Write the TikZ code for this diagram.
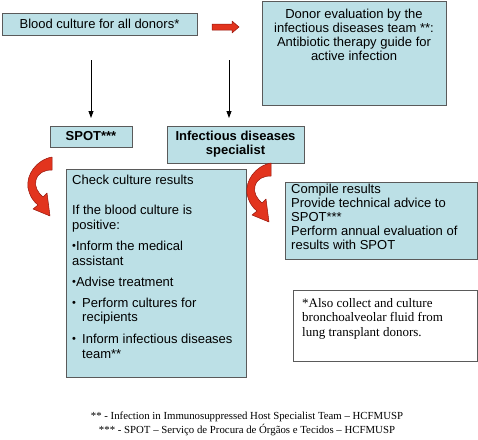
\documentclass[tikz,border=0pt]{standalone}
\usepackage{fontspec}
\setmainfont{Liberation Sans}
\newfontfamily\seriffam{Liberation Serif}
\usetikzlibrary{arrows.meta}
\definecolor{boxblue}{RGB}{188,224,230}
\definecolor{boxline}{RGB}{90,90,90}
\definecolor{arrowred}{RGB}{226,52,30}
\definecolor{arrowdark}{RGB}{150,22,12}
\newcommand\boxfont{\fontsize{13}{14}\selectfont}
\newcommand\checkfont{\fontsize{13}{15}\selectfont}
\newcommand\notefont{\fontsize{13}{14.5}\selectfont}
\newcommand\footfont{\fontsize{10.8}{14}\selectfont}
\newcommand\smbul{\raisebox{1.5pt}{\fontsize{11}{11}\selectfont•}}
\tikzset{
  box/.style={draw=boxline, line width=0.8pt, fill=boxblue, inner sep=0pt},
  whitebox/.style={draw=boxline, line width=0.8pt, fill=white, inner sep=0pt},
  txt/.style={inner sep=0pt, font=\boxfont},
  flow/.style={draw=black, line width=0.8pt, -{Triangle[length=7pt,width=5pt]}},
  redshape/.style={fill=arrowred, draw=arrowdark, line width=0.5pt, line join=round},
  curvarr/.pic={
    \path[redshape] (0,0)
      .. controls (-16,3) and (-26,18) .. (-24,31)
      .. controls (-22,40) and (-18,45) .. (-14,48)
      -- (-19,52) -- (-2,59) -- (-5,36) -- (-9,40)
      .. controls (-14,36) and (-18,29) .. (-16,23)
      .. controls (-14,16) and (-8,13) .. (0,13) -- cycle;
  }
}
\begin{document}
\begin{tikzpicture}[x=1pt,y=-1pt]
\useasboundingbox (0,0) rectangle (478,439);

% boxes
\node[box, minimum width=195pt, minimum height=22pt, font=\boxfont] (blood) at (99.5,24) {Blood culture for all donors*};
\node[box, minimum width=184pt, minimum height=104pt] (donor) at (354,53) {};
\node[txt, anchor=north, align=center] (donortxt) at (354,8.5) {Donor evaluation by the\\infectious diseases team **:\\Antibiotic therapy guide for\\active infection};

\node[box, minimum width=82pt, minimum height=21pt, font=\boxfont\bfseries] (spot) at (91,136.5) {SPOT***};
\node[box, minimum width=137pt, minimum height=37pt, font=\boxfont\bfseries, align=center] (ids) at (235.5,144.5) {Infectious diseases\\specialist};

\node[box, minimum width=180pt, minimum height=208pt] (check) at (156,273) {};
\node[inner sep=0pt, font=\checkfont, anchor=north west, align=left] (checktxt) at (72,175) {Check culture results\\[15pt]
If the blood culture is\\
positive:\\[6pt]
\smbul Inform the medical\\
assistant\\[6pt]
\smbul Advise treatment\\[6pt]
\makebox[10pt][l]{\smbul}Perform cultures for\\[-1pt]
\hspace*{10pt}recipients\\[7pt]
\makebox[10pt][l]{\smbul}Inform infectious diseases\\
\hspace*{10pt}team**};

\node[box, minimum width=192pt, minimum height=77pt] (compile) at (381,220.5) {};
\node[txt, anchor=north west, align=left] (compiletxt) at (291,184) {Compile results\\Provide technical advice to\\SPOT***\\Perform annual evaluation of\\results with SPOT};

\node[whitebox, minimum width=184pt, minimum height=71pt] (note) at (385,325.5) {};
\node[inner sep=0pt, font=\seriffam\notefont, anchor=north west, align=left] (notetxt) at (302,298) {*Also collect and culture\\bronchoalveolar fluid from\\lung transplant donors.};

% footer
\node[inner sep=0pt, font=\seriffam\footfont, align=center, anchor=north] (foot) at (247,412) {** - Infection in Immunosuppressed Host Specialist Team – HCFMUSP\\*** - SPOT – Serviço de Procura de Órgãos e Tecidos – HCFMUSP};

% straight arrows
\coordinate (a1s) at (91,60);
\coordinate (a1e) at (91,118);
\coordinate (a2s) at (229,60);
\coordinate (a2e) at (229,118);
\draw[flow] (a1s) -- (a1e);
\draw[flow] (a2s) -- (a2e);

% block arrow
\path[redshape] (212,24) -- (232,24) -- (232,21) -- (239,27) -- (232,33) -- (232,30) -- (212,30) -- cycle;

% curved arrows
\pic at (52,157) {curvarr};
\pic at (271,163) {curvarr};
\end{tikzpicture}
\end{document}
